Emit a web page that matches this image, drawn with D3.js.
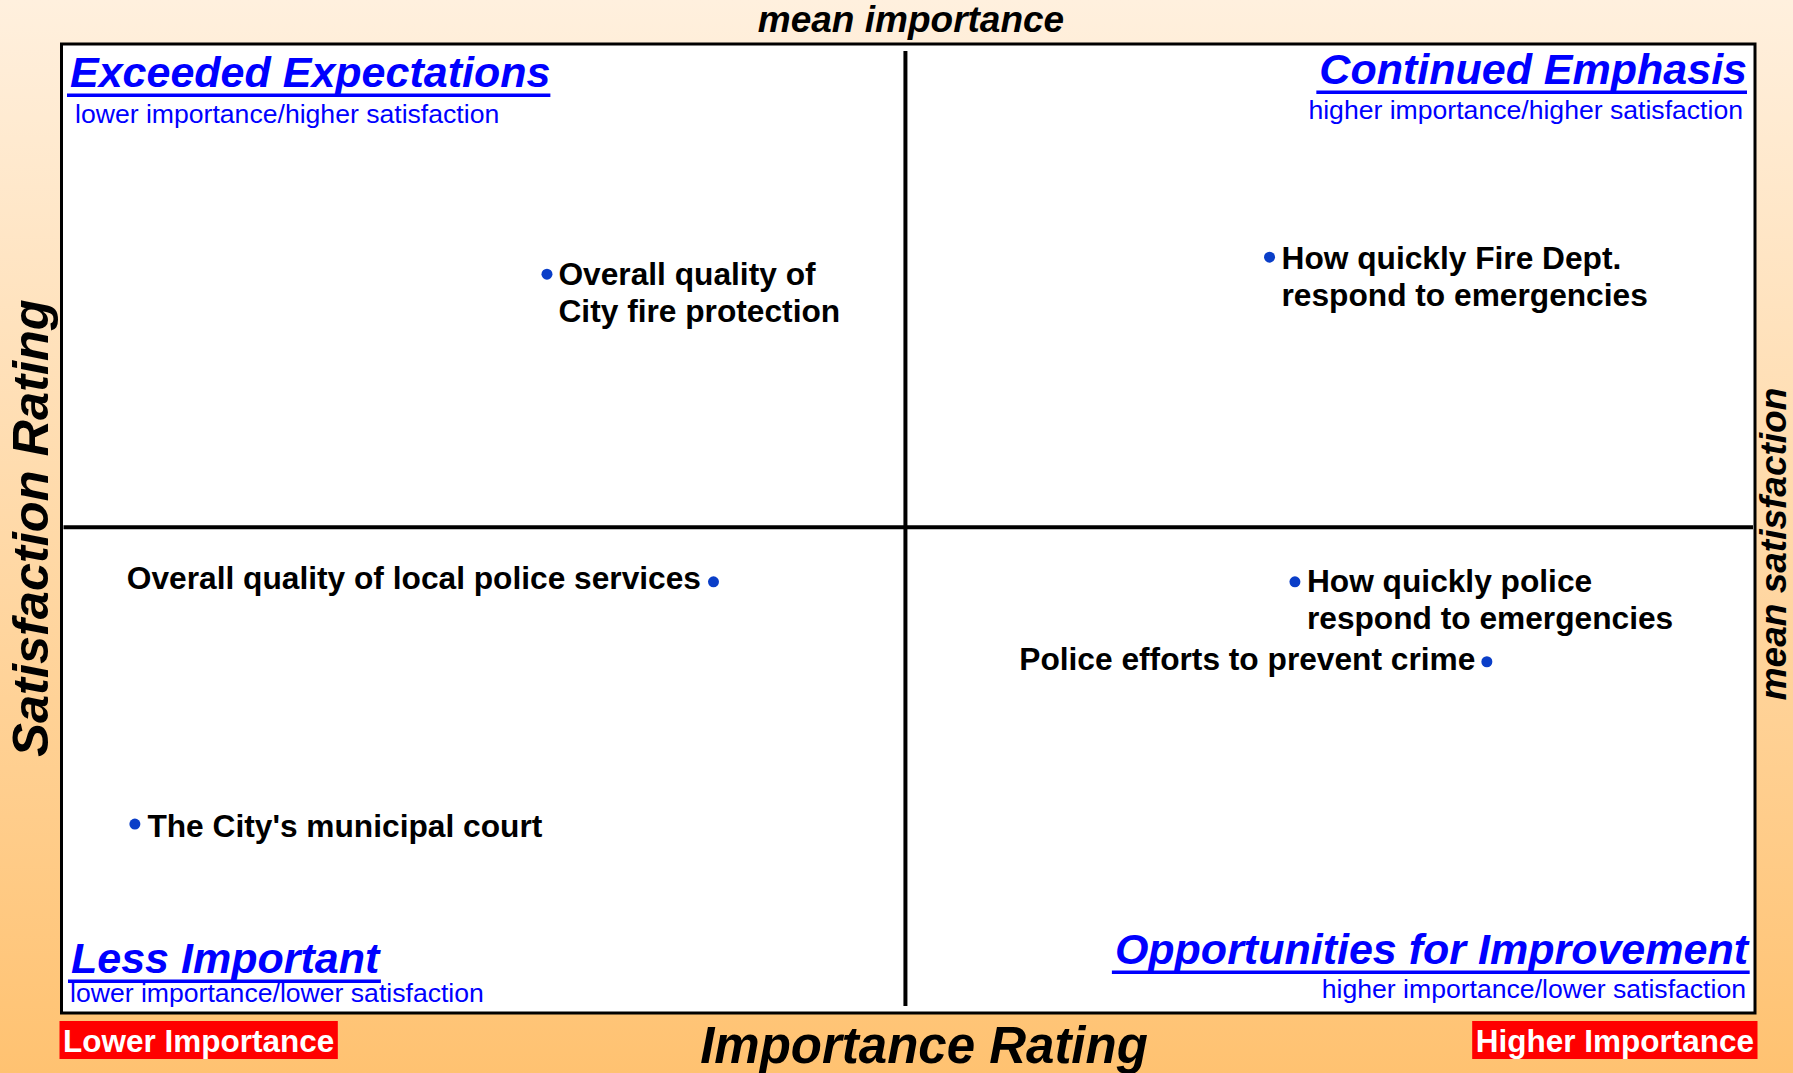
<!DOCTYPE html>
<html>
<head>
<meta charset="utf-8">
<script src="https://cdn.jsdelivr.net/npm/d3@7"></script>
<style>
html, body { margin: 0; padding: 0; }
body { width: 1793px; height: 1073px; overflow: hidden; }
text { font-family: "Liberation Sans", Arial, sans-serif; }
</style>
</head>
<body>
<script>
// services (label lines), importance and satisfaction
var services = [
  ["Overall quality of", "City fire protection"],
  ["How quickly Fire Dept.", "respond to emergencies"],
  ["Overall quality of local police services"],
  ["How quickly police", "respond to emergencies"],
  ["Police efforts to prevent crime"],
  ["The City's municipal court"]
];
var importance   = [17.2, 42.8, 23.1, 43.7, 50.5, 2.6];
var satisfaction = [90.5, 91.2, 77.8, 77.8, 74.5, 67.8];

var meanImportance = 29.9;
var meanSatisfaction = 80.05;
var importanceDomain = [0, 60];
var satisfactionDomain = [60, 100];

var quadTitles = ["Exceeded Expectations", "Continued Emphasis", "Less Important", "Opportunities for Improvement"];
var quadSubs = ["lower importance/higher satisfaction", "higher importance/higher satisfaction",
                "lower importance/lower satisfaction", "higher importance/lower satisfaction"];

// label placement relative to each dot
var labelPos = [
  {anchor: "start", dx: 11.5, dy: 11},
  {anchor: "start", dx: 12, dy: 12},
  {anchor: "end", dx: -12.5, dy: 7},
  {anchor: "start", dx: 12, dy: 10},
  {anchor: "end", dx: -11.5, dy: 8},
  {anchor: "start", dx: 12.5, dy: 13}
];

var W = 1793, H = 1073;
var box = {left: 61.5, top: 44, right: 1755, bottom: 1013};

var svg = d3.select("body").append("svg")
  .attr("width", W)
  .attr("height", H);

var grad = svg.append("defs").append("linearGradient")
  .attr("id", "bg").attr("x1", 0).attr("y1", 0).attr("x2", 0).attr("y2", 1);
grad.append("stop").attr("offset", "0%").attr("stop-color", "#FFF0DE");
grad.append("stop").attr("offset", "100%").attr("stop-color", "#FFC271");

svg.append("rect").attr("width", W).attr("height", H).attr("fill", "url(#bg)");

svg.append("rect")
  .attr("x", box.left).attr("y", box.top)
  .attr("width", box.right - box.left).attr("height", box.bottom - box.top)
  .attr("fill", "#fff").attr("stroke", "#000").attr("stroke-width", 3);

var x = d3.scaleLinear().domain(importanceDomain).range([box.left, box.right]);
var y = d3.scaleLinear().domain(satisfactionDomain).range([box.bottom, box.top]);

// mean lines
svg.append("line")
  .attr("x1", x(meanImportance)).attr("x2", x(meanImportance))
  .attr("y1", box.top + 7).attr("y2", box.bottom - 7)
  .attr("stroke", "#000").attr("stroke-width", 4);
svg.append("line")
  .attr("x1", box.left + 2).attr("x2", box.right - 2)
  .attr("y1", y(meanSatisfaction)).attr("y2", y(meanSatisfaction))
  .attr("stroke", "#000").attr("stroke-width", 4);

// quadrant headings
var quadLayout = [
  {x: 70, ty: 87, sx: 75, sy: 123, anchor: "start"},
  {x: 1747, ty: 84, sx: 1743, sy: 119, anchor: "end"},
  {x: 71, ty: 973, sx: 70, sy: 1002, anchor: "start"},
  {x: 1748, ty: 964, sx: 1746, sy: 998, anchor: "end"}
];

quadTitles.forEach(function(t, i) {
  var q = quadLayout[i];
  var txt = svg.append("text")
    .attr("x", q.x).attr("y", q.ty)
    .attr("text-anchor", q.anchor)
    .attr("font-size", 43).attr("font-weight", "bold").attr("font-style", "italic")
    .attr("fill", "#0000FF")
    .text(t);
  var bb = txt.node().getBBox();
  svg.append("rect")
    .attr("x", bb.x - 3).attr("y", q.ty + 6.5)
    .attr("width", bb.width + 3).attr("height", 3.5)
    .attr("fill", "#0000FF");
  svg.append("text")
    .attr("x", q.sx).attr("y", q.sy)
    .attr("text-anchor", q.anchor)
    .attr("font-size", 26.6)
    .attr("fill", "#0000FF")
    .text(quadSubs[i]);
});

// points and labels
var pts = svg.append("g");
services.forEach(function(lines, i) {
  var cx = x(importance[i]), cy = y(satisfaction[i]);
  var p = labelPos[i];
  pts.append("circle")
    .attr("cx", cx).attr("cy", cy).attr("r", 5.5)
    .attr("fill", "#0A3EC8");
  var t = pts.append("text")
    .attr("text-anchor", p.anchor)
    .attr("font-size", 31.7).attr("font-weight", "bold")
    .attr("fill", "#000");
  lines.forEach(function(line, j) {
    t.append("tspan")
      .attr("x", cx + p.dx)
      .attr("y", cy + p.dy + j * 37)
      .text(line);
  });
});

// axis titles
svg.append("text")
  .attr("x", 911).attr("y", 32)
  .attr("text-anchor", "middle")
  .attr("font-size", 37).attr("font-weight", "bold").attr("font-style", "italic")
  .text("mean importance");

svg.append("text")
  .attr("x", 924).attr("y", 1063)
  .attr("text-anchor", "middle")
  .attr("font-size", 51).attr("font-weight", "bold").attr("font-style", "italic")
  .text("Importance Rating");

svg.append("text")
  .attr("transform", "translate(48,528) rotate(-90)")
  .attr("text-anchor", "middle")
  .attr("font-size", 50.5).attr("font-weight", "bold").attr("font-style", "italic")
  .text("Satisfaction Rating");

svg.append("text")
  .attr("transform", "translate(1786,544) rotate(-90)")
  .attr("text-anchor", "middle")
  .attr("font-size", 37).attr("font-weight", "bold").attr("font-style", "italic")
  .text("mean satisfaction");

// red end labels
var ends = [
  {label: "Lower Importance", x: 63, anchor: "start"},
  {label: "Higher Importance", x: 1754, anchor: "end"}
];
ends.forEach(function(e) {
  var g = svg.append("g");
  var t = g.append("text")
    .attr("x", e.x).attr("y", 1052)
    .attr("text-anchor", e.anchor)
    .attr("font-size", 31.5).attr("font-weight", "bold")
    .attr("fill", "#fff")
    .text(e.label);
  var bb = t.node().getBBox();
  g.insert("rect", "text")
    .attr("x", bb.x - 3.5).attr("y", 1021)
    .attr("width", bb.width + 7).attr("height", 38)
    .attr("fill", "#FF0000");
});
</script>
</body>
</html>
